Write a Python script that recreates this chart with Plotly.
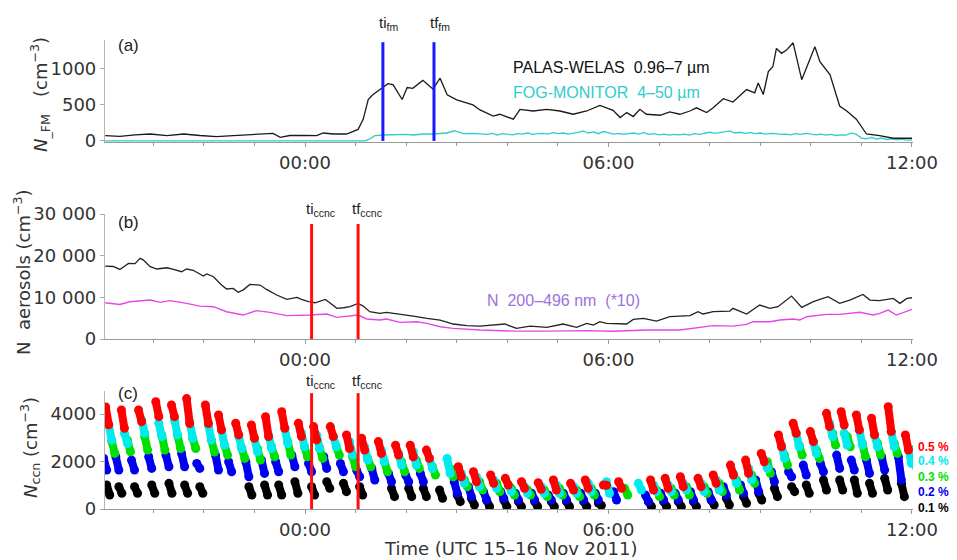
import plotly.graph_objects as go

# ---------------- DATA ----------------
# time in hours relative to 00:00 UTC 16 Nov 2011
# Panel (a): PALAS-WELAS (black) and FOG-MONITOR (cyan)
welas_t = [-3.95, -3.66, -3.36, -3.06, -2.73, -2.40, -2.08, -1.75, -1.42, -1.09, -0.76, -0.63, -0.49, -0.30,
           0.0, 0.23, 0.36, 0.56, 0.82, 0.96, 1.05, 1.15, 1.25, 1.34, 1.54, 1.64, 1.74, 1.92, 2.02, 2.13,
           2.33, 2.53, 2.67, 2.81, 3.00, 3.20, 3.32, 3.46, 3.72, 3.85, 4.12, 4.25, 4.51, 4.78, 5.04, 5.30,
           5.57, 5.83, 6.09, 6.23, 6.36, 6.49, 6.62, 6.75, 7.02, 7.21, 7.41, 7.61, 7.74, 7.94, 8.07, 8.27,
           8.46, 8.73, 8.89, 8.96, 9.06, 9.16, 9.25, 9.32, 9.42, 9.52, 9.65, 9.82, 10.08, 10.18, 10.38,
           10.57, 10.71, 10.90, 11.10, 11.36, 11.63, 12.0]
welas_n = [73, 64, 85, 96, 73, 96, 75, 59, 73, 85, 96, 105, 50, 75, 75, 73, 110, 96, 96, 140, 160, 300,
           575, 640, 740, 795, 780, 575, 740, 730, 840, 720, 870, 640, 570, 520, 500, 430, 345, 370, 301,
           438, 415, 438, 415, 370, 415, 493, 425, 324, 393, 338, 438, 370, 356, 402, 370, 415, 459, 393,
           459, 585, 539, 712, 667, 804, 644, 963, 1032, 1283, 1215, 1260, 1361, 849, 1306, 1100, 918,
           484, 415, 301, 96, 73, 37, 37]

fog_t = [-3.95, 1.19, 1.28, 1.38, 1.55, 1.70, 1.88, 2.00, 2.14, 2.34, 2.54, 2.80, 2.96, 3.13, 3.30, 3.46,
         3.6, 3.7, 3.8, 3.9, 4.0, 4.1, 4.2, 4.3, 4.4, 4.5, 4.6, 4.7, 4.8, 4.9, 5.0, 5.1, 5.2, 5.3, 5.4, 5.5,
         5.6, 5.7, 5.8, 5.9, 6.0, 6.1, 6.2, 6.3, 6.4, 6.5, 6.6, 6.7, 6.8, 6.9, 7.0, 7.1, 7.2, 7.3, 7.4, 7.5,
         7.6, 7.7, 7.8, 7.9, 8.0, 8.1, 8.2, 8.3, 8.4, 8.5, 8.6, 8.7, 8.8, 8.9, 9.0, 9.1, 9.2, 9.3, 9.4, 9.5,
         9.6, 9.7, 9.8, 9.9, 10.0, 10.1, 10.2, 10.3, 10.4, 10.5, 10.6, 10.7, 10.8, 10.9, 11.0, 11.1, 11.2,
         11.3, 11.4, 11.5, 11.6, 11.7, 11.8, 11.9, 12.0]
fog_n = [0, 0, 27, 73, 82, 85, 87, 90, 82, 96, 96, 110, 141, 100, 105, 100,
         90, 105, 80, 100, 95, 85, 100, 95, 110, 90, 100, 105, 95, 115, 100, 110, 95, 105, 120, 140,
         110, 125, 100, 130, 110, 95, 105, 90, 100, 110, 95, 115, 90, 100, 85, 95, 80, 90, 85, 95,
         80, 100, 90, 110, 120, 105, 115, 125, 140, 110, 120, 105, 115, 100, 110, 95, 105, 100, 90, 95,
         85, 100, 90, 105, 95, 85, 95, 80, 90, 75, 85, 80, 110, 90, 40, 30, 50,
         25, 40, 20, 30, 15, 25, 10, 15]

# Panel (b): total aerosols (black) and N 200-496 nm x10 (magenta)
aer_t = [-3.95, -3.79, -3.66, -3.49, -3.36, -3.26, -3.20, -3.06, -2.93, -2.73, -2.60, -2.44, -2.34, -2.21,
         -2.01, -1.94, -1.81, -1.65, -1.55, -1.42, -1.32, -1.22, -1.09, -0.89, -0.76, -0.56, -0.36, -0.16,
         -0.07, 0.07, 0.20, 0.30, 0.40, 0.49, 0.63, 0.76, 0.89, 1.05, 1.15, 1.28, 1.48, 1.61, 1.88, 2.14,
         2.41, 2.67, 2.93, 3.20, 3.46, 3.72, 3.95, 4.18, 4.45, 4.78, 5.10, 5.37, 5.57, 5.70, 5.83, 5.96,
         6.36, 6.49, 6.69, 6.95, 7.21, 7.61, 7.77, 7.87, 8.07, 8.40, 8.46, 8.73, 8.99, 9.19, 9.35, 9.62,
         9.82, 10.05, 10.34, 10.57, 10.77, 11.03, 11.17, 11.36, 11.50, 11.63, 11.76, 11.90, 12.0]
aer_n = [17500, 17400, 16700, 18150, 18100, 19350, 19000, 17350, 16800, 17100, 16700, 16150, 16800, 16500,
         15100, 15600, 14950, 12950, 12000, 12150, 11200, 11800, 13100, 12950, 11900, 10550, 9500, 10000,
         9500, 8950, 8700, 9100, 9500, 8700, 7350, 7500, 7750, 8550, 7900, 6550, 6150, 6400, 6000, 5500,
         4950, 4550, 3600, 3200, 3100, 3300, 3600, 2550, 3100, 2800, 3600, 2800, 3750, 3350, 4150, 3750,
         3600, 4700, 4950, 4300, 5350, 5600, 6550, 6000, 6550, 6700, 7350, 6000, 8150, 7350, 7750, 10300,
         7600, 8950, 10150, 8550, 9350, 10700, 9350, 9200, 9500, 9750, 8550, 9750, 9900]

acc_t = [-3.95, -3.66, -3.46, -3.06, -2.86, -2.67, -2.34, -2.08, -1.81, -1.55, -1.22, -0.96, -0.69, -0.36,
         0.10, 0.43, 0.63, 0.82, 1.05, 1.22, 1.48, 1.61, 1.88, 2.21, 2.41, 2.67, 2.93, 3.46, 4.12, 4.78,
         5.57, 6.09, 6.75, 7.41, 7.74, 8.07, 8.46, 8.73, 8.86, 9.19, 9.39, 9.65, 9.78, 9.92, 10.31, 10.57,
         10.97, 11.23, 11.36, 11.53, 11.69, 12.0]
acc_n = [8700, 8300, 8950, 9350, 8800, 9200, 8550, 7900, 7750, 6550, 5750, 6800, 6400, 5600,
         5750, 6000, 5200, 5500, 5750, 4800, 4550, 4800, 4000, 4150, 3750, 2950, 2550, 2150, 1900, 1900,
         2000, 1850, 2150, 2150, 2700, 3200, 3100, 3500, 4150, 4150, 4550, 4800, 4550, 5350, 5900, 5900,
         6400, 5750, 6150, 6950, 5750, 7100]

# Panel (c): CCN cycles (start time of each CCNC cycle) and per-supersaturation high/low values
cycle_t = [-4.15, -3.91, -3.60, -3.26, -2.92, -2.61, -2.31, -1.94, -1.68, -1.34, -1.03, -0.75, -0.43, -0.10,
           0.20, 0.53, 0.85, 1.15, 1.48, 1.82, 2.11, 2.43, 2.78, 3.06, 3.36, 3.70, 3.99, 4.31, 4.64, 4.94,
           5.28, 5.57, 5.93, 6.23, 6.56, 6.86, 7.15, 7.45, 7.80, 8.10, 8.44, 8.74, 9.05, 9.39, 9.68, 10.02,
           10.34, 10.63, 10.93, 11.23, 11.56, 11.90]
ss_labels = ["0.5 %", "0.4 %", "0.3 %", "0.2 %", "0.1 %"]
ccn05_hi = [None, 4300, 4170, 4170, 4520, 4380, 4650, 4380, 3960, 3610, 3540, 3890, 4100, 3610, 3470, 3470,
            3120, 2980, 2840, 2690, 2690, 2480, None, 1780, 1570, 1430, 1290, 1150, 1110, 1220, 1080, 1220,
            1010, 1150, None, 1220, 1290, 1360, 1290, 1430, 1850, 2060, 2340, 3120, 3610, 3260, 4030, 4100,
            3960, 3820, 4310, 3120]
ccn05_lo = [None, 3550, 3400, 3680, 3890, 3890, 3600, 3600, 3330, 3120, 2980, 3050, 3400, 3050, 2910, 3050,
            2550, 2480, 2340, 2270, 2200, 2130, None, 1360, 1150, 1080, 1010, 870, 830, 800, 800, 870,
            1000, 870, None, 800, 870, 940, 940, 1080, 1430, 1500, 1990, 2620, 3190, 2840, 3470, 3540,
            3330, 3120, 3260, 2480]
ccn04_hi = [None, 3540, 3190, 3750, 3610, 3750, 3680, 3540, 3330, 3050, 2980, 3120, 3400, 3200, 3120, 3050,
            2840, 2620, 2480, 2340, 2410, 2130, 2130, 1500, 1360, 1220, 1010, 940, 940, 1010, 940, 1080,
            1150, None, 1080, 1010, 1010, 1080, 1080, 1220, 1500, 1710, 2060, 2690, 3190, 2840, 3610, 3190,
            3330, 3120, 3260, 2550]
ccn04_lo = [None, 2900, 2760, 3190, 3050, 3120, 2980, 2900, 2690, 2550, 2410, 2550, 2760, 2620, 2550, 2620,
            2270, 2060, 1990, 1850, 1850, 1710, 1500, 1080, 940, 870, 730, 660, 660, 660, 660, 730,
            660, None, 800, 730, 730, 800, 730, 800, 1080, 1220, 1710, 2130, 2620, 2340, 3050, 2690,
            2690, 2620, 2620, 1920]
ccn03_hi = [None, 2840, 2900, 3050, 3110, 3110, 2980, 2900, 2690, 2550, 2550, 2620, 2840, 2620, 2550, 2620,
            2200, 2130, 1990, 1990, 2060, 1780, 1710, 1220, 1150, 1080, 870, 800, 800, 870, 800, 870,
            None, 870, None, 800, 870, 940, 940, 1080, 1220, 1430, 1990, 2270, 2690, 2480, 3190, 3050,
            2760, 2760, 2760, 2500]
ccn03_lo = [None, 2340, 2410, 2480, 2480, 2550, 2550, 2400, 2270, 2130, 2060, 2200, 2270, 2200, 2130, 2270,
            1780, 1780, 1570, 1570, 1710, 1430, 1360, 940, 800, 730, 590, 590, 520, 590, 520, 590,
            None, 590, None, 520, 590, 590, 660, 730, 800, 1080, 1500, 1850, 2270, 2130, 2690, 2620,
            2200, 2270, 2340, 2100]
ccn02_hi = [2130, 2200, 2060, 2200, 2270, 2340, 1920, 2270, 1990, 1990, 2060, 1990, 2270, 1920, 2200, 1920,
            1640, 1710, 1500, 1430, 1500, None, 1150, 940, 730, 730, 660, 660, 590, 660, 660, 660,
            730, None, 590, 660, 660, 730, 730, 940, 1010, 1220, 1570, 1570, 1850, 1920, 2270, 2060,
            2060, 2200, 2200, 1920]
ccn02_lo = [1640, 1640, 1640, 1710, 1780, 1780, 1710, 1640, 1570, 1360, 1500, 1570, 1780, 1570, 1710, 1570,
            1360, 1220, 1150, 1150, 1150, None, 660, 520, 380, 450, 380, 380, 380, 380, 380, 380,
            380, None, 310, 380, 380, 380, 380, 590, 660, 730, 1150, 1360, 1430, 1570, 1710, 1640,
            1500, 1640, 1220, 1360]
ccn01_hi = [1010, 940, 940, 1010, 1080, 1010, 940, None, None, 940, 1010, 1010, 1150, 940, 1150, 1080,
            940, None, 870, 870, 870, 800, 590, 450, 380, 380, 310, 310, 310, 310, 310, 250,
            None, None, 310, 310, 310, 310, 380, 450, 520, 660, 870, 940, 1010, 1220, 1220, 1220,
            1080, 1290, 1080, None]
ccn01_lo = [590, 660, 660, 660, 660, 660, 660, None, None, 590, 590, 590, 660, 590, 870, 730,
            590, None, 520, 520, 520, 450, 310, 170, 100, 100, 100, 100, 100, 100, 100, 150,
            None, None, 100, 100, 100, 100, 170, 170, 240, 380, 520, 730, 660, 800, 800, 660,
            660, 800, 520, None]

# event times (hours)
ti_fm, tf_fm = 1.54, 2.55
ti_ccnc, tf_ccnc = 0.13, 1.05

for arr in (ccn05_hi, ccn05_lo, ccn04_hi, ccn04_lo, ccn03_hi, ccn03_lo, ccn02_hi, ccn02_lo, ccn01_hi, ccn01_lo):
    assert len(arr) == len(cycle_t), len(arr)
assert len(welas_t) == len(welas_n) and len(fog_t) == len(fog_n)
assert len(aer_t) == len(aer_n) and len(acc_t) == len(acc_n)

# ---------------- STYLE ----------------
# The page adds an 8 px body margin, so the figure is drawn 8 px smaller and offset.
PAGE_OFF = 8
REF_W, REF_H = 957, 560
PL, PR, PT, PB = 105, 913, 40, 509          # plot area in screenshot pixels
W, H = REF_W - PAGE_OFF, REF_H - PAGE_OFF
ML, MT = PL - PAGE_OFF, PT - PAGE_OFF
MR, MB = REF_W - PR, REF_H - PB
PW, PH = PR - PL, PB - PT
X_RANGE = [-3.954, 12.02]

def py(pix):  # screenshot row -> paper y
    return (PB - pix) / PH

def px(pix):  # screenshot col -> paper x
    return (pix - PL) / PW

TICKFONT = dict(family="DejaVu Sans", size=18, color="#333333")
ss_colors = ["#ff0000", "#00ecec", "#00e000", "#0000f0", "#000000"]
ss_offsets = [0.0, 0.06, 0.12, 0.20, 0.26]   # position of each SS within a cycle (h)
BLOB_HALF = 0.03

fig = go.Figure()

# Panel (a)
fig.add_trace(go.Scatter(x=fog_t, y=fog_n, mode="lines", line=dict(color="#30cccc", width=1.3),
                         xaxis="x", yaxis="y"))
fig.add_trace(go.Scatter(x=welas_t, y=welas_n, mode="lines", line=dict(color="#1a1a1a", width=1.3),
                         xaxis="x", yaxis="y"))
# Panel (b)
fig.add_trace(go.Scatter(x=acc_t, y=acc_n, mode="lines", line=dict(color="#e845e8", width=1.4),
                         xaxis="x2", yaxis="y2"))
fig.add_trace(go.Scatter(x=aer_t, y=aer_n, mode="lines", line=dict(color="#222222", width=1.3),
                         xaxis="x2", yaxis="y2"))
# Panel (c): draw from 0.1 % (bottom) to 0.5 % (top)
ss_series = [(ccn05_hi, ccn05_lo), (ccn04_hi, ccn04_lo), (ccn03_hi, ccn03_lo),
             (ccn02_hi, ccn02_lo), (ccn01_hi, ccn01_lo)]
for k in [4, 3, 2, 1, 0]:
    hi, lo = ss_series[k]
    xs, ys = [], []
    for t, a, b in zip(cycle_t, hi, lo):
        if a is None:
            continue
        tc = t + ss_offsets[k]
        xs += [tc - BLOB_HALF, tc + BLOB_HALF, None]
        ys += [a, b, None]
    fig.add_trace(go.Scatter(x=xs, y=ys, mode="lines+markers",
                             line=dict(color=ss_colors[k], width=8),
                             marker=dict(color=ss_colors[k], size=9),
                             xaxis="x3", yaxis="y3", connectgaps=False))

def xaxis_cfg(anchor):
    return dict(domain=[0, 1], range=X_RANGE, anchor=anchor, tickmode="array",
                tickvals=[0, 6, 12], ticktext=["00:00", "06:00", "12:00"],
                ticks="outside", ticklen=4, tickcolor="#999999", tickfont=TICKFONT,
                showline=True, linecolor="#999999", linewidth=1.2, showgrid=False, zeroline=False,
                minor=dict(tickmode="linear", tick0=0, dtick=1, ticks="outside", ticklen=3,
                           tickcolor="#999999", showgrid=False))

def yaxis_cfg(anchor, dom, rng, vals, texts):
    return dict(domain=dom, range=rng, anchor=anchor, tickmode="array", tickvals=vals, ticktext=texts,
                ticks="outside", ticklen=4, tickcolor="#aaaaaa", tickfont=TICKFONT,
                showline=True, linecolor="#b5b5b5", linewidth=1.2, showgrid=False, zeroline=False)

fig.update_layout(
    width=W, height=H, margin=dict(l=ML, r=MR, t=MT, b=MB),
    plot_bgcolor="white", paper_bgcolor="white", showlegend=False,
    font=dict(family="DejaVu Sans", color="#333333"),
    xaxis=xaxis_cfg("y"), xaxis2=xaxis_cfg("y2"), xaxis3=xaxis_cfg("y3"),
    yaxis=yaxis_cfg("x", [py(142), py(40)], [-15, 1400], [0, 500, 1000], ["0", "500", "1000"]),
    yaxis2=yaxis_cfg("x2", [py(339), py(214)], [0, 30000], [0, 10000, 20000, 30000],
                     ["0", "10 000", "20 000", "30 000"]),
    yaxis3=yaxis_cfg("x3", [py(509), py(391)], [0, 4970], [0, 2000, 4000], ["0", "2000", "4000"]),
)

# event lines
fig.add_shape(type="line", xref="x", yref="y", x0=ti_fm, x1=ti_fm, y0=0, y1=1370,
              line=dict(color="#1a1aff", width=3))
fig.add_shape(type="line", xref="x", yref="y", x0=tf_fm, x1=tf_fm, y0=0, y1=1370,
              line=dict(color="#1a1aff", width=3))
for yr, top in (("y2", 27600), ("y3", 4880)):
    for tt in (ti_ccnc, tf_ccnc):
        fig.add_shape(type="line", xref="x2" if yr == "y2" else "x3", yref=yr, x0=tt, x1=tt, y0=0, y1=top,
                      line=dict(color="#ff1010", width=3))

ANN = dict(family="Liberation Sans", size=15, color="#222222")
def label(text, x, y, xref="paper", font=ANN, xanchor="left", yanchor="middle", angle=0, xshift=0):
    fig.add_annotation(text=text, x=x, y=y, xref=xref, yref="paper", showarrow=False, font=font,
                       xanchor=xanchor, yanchor=yanchor, textangle=angle, xshift=xshift)

# event labels
label("ti<sub>fm</sub>", ti_fm, py(23), xref="x", xanchor="center", xshift=6)
label("tf<sub>fm</sub>", tf_fm, py(23), xref="x", xanchor="center", xshift=6)
for yy in (py(209), py(381)):
    label("ti<sub>ccnc</sub>", ti_ccnc, yy, xref="x", xanchor="center", xshift=9)
    label("tf<sub>ccnc</sub>", tf_ccnc, yy, xref="x", xanchor="center", xshift=9)

# panel letters
PF = dict(family="Liberation Sans", size=17, color="#222222")
label("(a)", px(116), py(45), font=PF)
label("(b)", px(116), py(223), font=PF)
label("(c)", px(116), py(393), font=PF)

# in-plot legends
LF = dict(family="Liberation Sans", size=16, color="#111111")
label("PALAS-WELAS  0.96\u20137 \u00b5m", px(511), py(67), font=LF)
label("FOG-MONITOR  4\u201350 \u00b5m", px(511), py(93), font=dict(LF, color="#30cccc"))
label("N  200\u2013496 nm  (*10)", px(485), py(300), font=dict(LF, color="#a070dd"))

# supersaturation labels
for txt, col, yy in zip(ss_labels, ss_colors, [447, 461, 477, 492, 508]):
    label("<b>" + txt + "</b>", px(916), py(yy), font=dict(family="Liberation Sans", size=12, color=col),
          xanchor="left")

# axis titles
TF = dict(family="DejaVu Sans", size=18, color="#333333")
label("<i>N</i><sub>_FM</sub>   (cm<sup>\u22123</sup>)", px(40), py(95), font=TF,
      xanchor="center", angle=-90)
label("N  aerosols (cm<sup>\u22123</sup>)", px(22), py(272), font=TF, xanchor="center", angle=-90)
label("<i>N</i><sub>ccn</sub> (cm<sup>\u22123</sup>)", px(30), py(448), font=TF, xanchor="center", angle=-90)
label("Time (UTC 15\u201316 Nov 2011)", px(510), py(548), font=TF, xanchor="center")

fig.write_html("out.html")
